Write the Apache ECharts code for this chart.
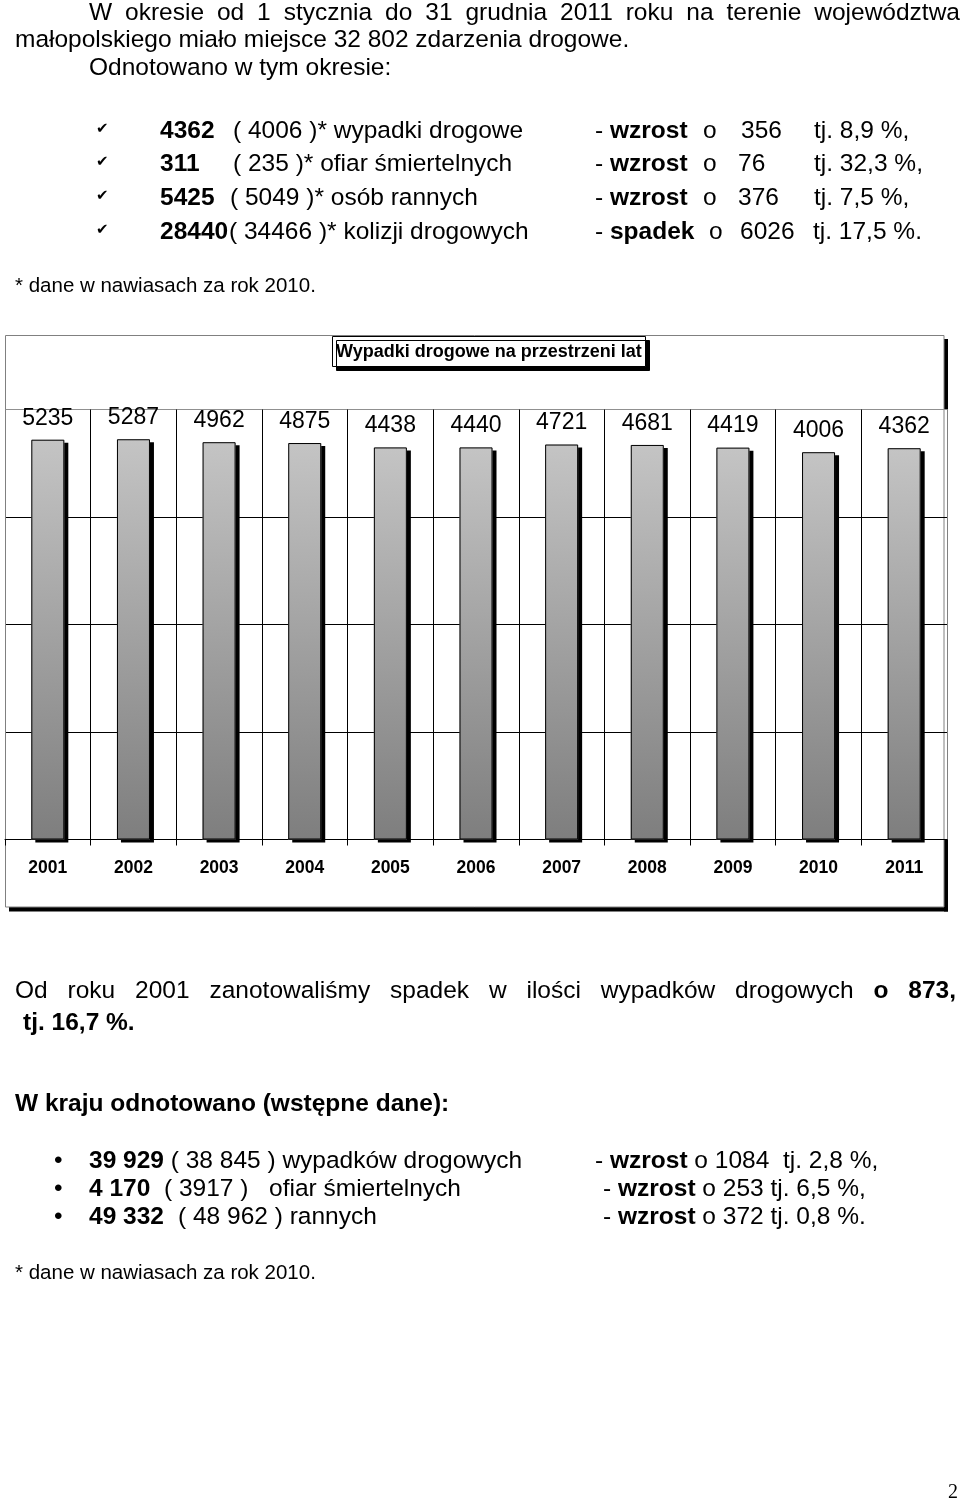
<!DOCTYPE html>
<html><head><meta charset="utf-8">
<script src="https://cdn.jsdelivr.net/npm/echarts@6/dist/echarts.min.js"></script>
<style>
html,body{margin:0;padding:0;background:#fff;}
#chart{position:absolute;left:0;top:0;width:960px;height:1499px;}
.t{position:absolute;font-family:'Liberation Sans',Arial,sans-serif;font-size:24.5px;line-height:28px;color:#000;white-space:pre;z-index:2;}
.f{font-size:20.5px;line-height:24px;}
.j{white-space:normal;text-align:justify;text-align-last:justify;}
.ck{font-family:'DejaVu Sans',sans-serif;font-size:15px;font-weight:bold;}
.pg{position:absolute;font-family:'Liberation Serif','Times New Roman',serif;font-size:20px;line-height:20px;left:948px;top:1481px;z-index:2;}
</style></head><body>
<div id="chart"></div>

<div class="t j" style="left:89px;top:-2px;width:871px;">W okresie od 1 stycznia do 31 grudnia 2011 roku na terenie województwa</div>
<div class="t" style="left:15px;top:25px;">małopolskiego miało miejsce 32 802 zdarzenia drogowe.</div>
<div class="t" style="left:89px;top:53px;">Odnotowano w tym okresie:</div>

<div class="t ck" style="left:96px;top:114px;">✔</div>
<div class="t" style="left:160px;top:116px;"><b>4362</b></div>
<div class="t" style="left:233px;top:116px;">( 4006 )* wypadki drogowe</div>
<div class="t" style="left:595px;top:116px;">- <b>wzrost</b></div>
<div class="t" style="left:703px;top:116px;">o</div>
<div class="t" style="left:741px;top:116px;">356</div>
<div class="t" style="left:814px;top:116px;">tj. 8,9 %,</div>

<div class="t ck" style="left:96px;top:147px;">✔</div>
<div class="t" style="left:160px;top:149px;"><b>311</b></div>
<div class="t" style="left:233px;top:149px;">( 235 )* ofiar śmiertelnych</div>
<div class="t" style="left:595px;top:149px;">- <b>wzrost</b></div>
<div class="t" style="left:703px;top:149px;">o</div>
<div class="t" style="left:738px;top:149px;">76</div>
<div class="t" style="left:814px;top:149px;">tj. 32,3 %,</div>

<div class="t ck" style="left:96px;top:181px;">✔</div>
<div class="t" style="left:160px;top:183px;"><b>5425</b></div>
<div class="t" style="left:230px;top:183px;">( 5049 )* osób rannych</div>
<div class="t" style="left:595px;top:183px;">- <b>wzrost</b></div>
<div class="t" style="left:703px;top:183px;">o</div>
<div class="t" style="left:738px;top:183px;">376</div>
<div class="t" style="left:814px;top:183px;">tj. 7,5 %,</div>

<div class="t ck" style="left:96px;top:215px;">✔</div>
<div class="t" style="left:160px;top:217px;"><b>28440</b></div>
<div class="t" style="left:229px;top:217px;">( 34466 )* kolizji drogowych</div>
<div class="t" style="left:595px;top:217px;">- <b>spadek</b></div>
<div class="t" style="left:709px;top:217px;">o</div>
<div class="t" style="left:740px;top:217px;">6026</div>
<div class="t" style="left:813px;top:217px;">tj. 17,5 %.</div>

<div class="t f" style="left:15px;top:273px;">* dane w nawiasach za rok 2010.</div>

<div class="t j" style="left:15px;top:976px;width:941px;">Od roku 2001 zanotowaliśmy spadek w ilości wypadków drogowych <b>o 873,</b></div>
<div class="t" style="left:23px;top:1008px;"><b>tj. 16,7 %.</b></div>

<div class="t" style="left:15px;top:1089px;"><b>W kraju odnotowano (wstępne dane):</b></div>

<div class="t" style="left:54px;top:1146px;">•</div>
<div class="t" style="left:89px;top:1146px;"><b>39 929</b> ( 38 845 ) wypadków drogowych</div>
<div class="t" style="left:595px;top:1146px;">- <b>wzrost</b> o 1084  tj. 2,8 %,</div>

<div class="t" style="left:54px;top:1174px;">•</div>
<div class="t" style="left:89px;top:1174px;"><b>4 170</b></div>
<div class="t" style="left:164px;top:1174px;">( 3917 )</div>
<div class="t" style="left:269px;top:1174px;">ofiar śmiertelnych</div>
<div class="t" style="left:603px;top:1174px;">- <b>wzrost</b> o 253 tj. 6,5 %,</div>

<div class="t" style="left:54px;top:1202px;">•</div>
<div class="t" style="left:89px;top:1202px;"><b>49 332</b></div>
<div class="t" style="left:178px;top:1202px;">( 48 962 ) rannych</div>
<div class="t" style="left:603px;top:1202px;">- <b>wzrost</b> o 372 tj. 0,8 %.</div>

<div class="t f" style="left:15px;top:1260px;">* dane w nawiasach za rok 2010.</div>

<div class="pg">2</div>

<script>
const years = ['2001','2002','2003','2004','2005','2006','2007','2008','2009','2010','2011'];
const accidents = [5235, 5287, 4962, 4875, 4438, 4440, 4721, 4681, 4419, 4006, 4362];
const chartTitle = 'Wypadki drogowe na przestrzeni lat';
const yTicksMin = 1;
const yTicksMax = 10000;

const FF = "'Liberation Sans', Arial, sans-serif";
const chart = echarts.init(document.getElementById('chart'), null, {renderer: 'canvas'});
chart.setOption({
  animation: false,
  title: {
    text: chartTitle,
    left: 332, top: 336,
    padding: [7, 4, 6, 4],
    backgroundColor: '#fff',
    borderColor: '#000', borderWidth: 1,
    shadowColor: '#000', shadowOffsetX: 4, shadowOffsetY: 4, shadowBlur: 0,
    textStyle: {fontFamily: FF, fontWeight: 'bold', fontSize: 18, color: '#000'}
  },
  graphic: [
    {type: 'rect', silent: true, shape: {x: 944, y: 339, width: 4, height: 70.5}, style: {fill: '#000'}},
    {type: 'rect', silent: true, shape: {x: 944, y: 839.5, width: 4, height: 72}, style: {fill: '#000'}},
    {type: 'rect', silent: true, shape: {x: 9, y: 907, width: 939, height: 4.5}, style: {fill: '#000'}},
    {type: 'rect', silent: true, shape: {x: 5.5, y: 335.5, width: 938.5, height: 571.5}, style: {fill: 'none', stroke: '#808080', lineWidth: 1}}
  ],
  grid: {left: 5, top: 409.5, width: 942, height: 430, show: true,
         backgroundColor: '#fff', borderWidth: 0},
  xAxis: {
    type: 'category', data: years,
    axisLine: {lineStyle: {color: '#000', width: 1}},
    axisTick: {show: true, length: 6, lineStyle: {color: '#000'}},
    axisLabel: {fontFamily: FF, fontWeight: 'bold', fontSize: 17.5, color: '#000', margin: 20},
    splitLine: {show: true, lineStyle: {color: ['#808080','#000','#000','#000','#000','#000','#000','#000','#000','#000','#000','#808080']}}
  },
  yAxis: {
    type: 'log', logBase: 10, min: yTicksMin, max: yTicksMax,
    axisLine: {show: false}, axisTick: {show: false}, axisLabel: {show: false},
    splitLine: {show: true, lineStyle: {color: ['#000','#000','#000','#000','#909090']}}
  },
  series: [{
    type: 'bar', data: accidents, barWidth: 33, z: 2,
    itemStyle: {
      color: {type: 'linear', x: 0, y: 0, x2: 0, y2: 1,
              colorStops: [{offset: 0, color: '#c4c4c4'}, {offset: 1, color: '#7e7e7e'}]},
      borderWidth: 0,
      shadowColor: '#000', shadowOffsetX: 4, shadowOffsetY: 3, shadowBlur: 0
    }
  }, {
    type: 'bar', data: accidents, barWidth: 33, barGap: '-100%', z: 3,
    itemStyle: {color: 'rgba(0,0,0,0)', borderColor: '#000', borderWidth: 1},
    label: {show: true, position: 'top', distance: 10, fontFamily: FF, fontSize: 23, color: '#000'}
  }]
});
</script>
</body></html>
